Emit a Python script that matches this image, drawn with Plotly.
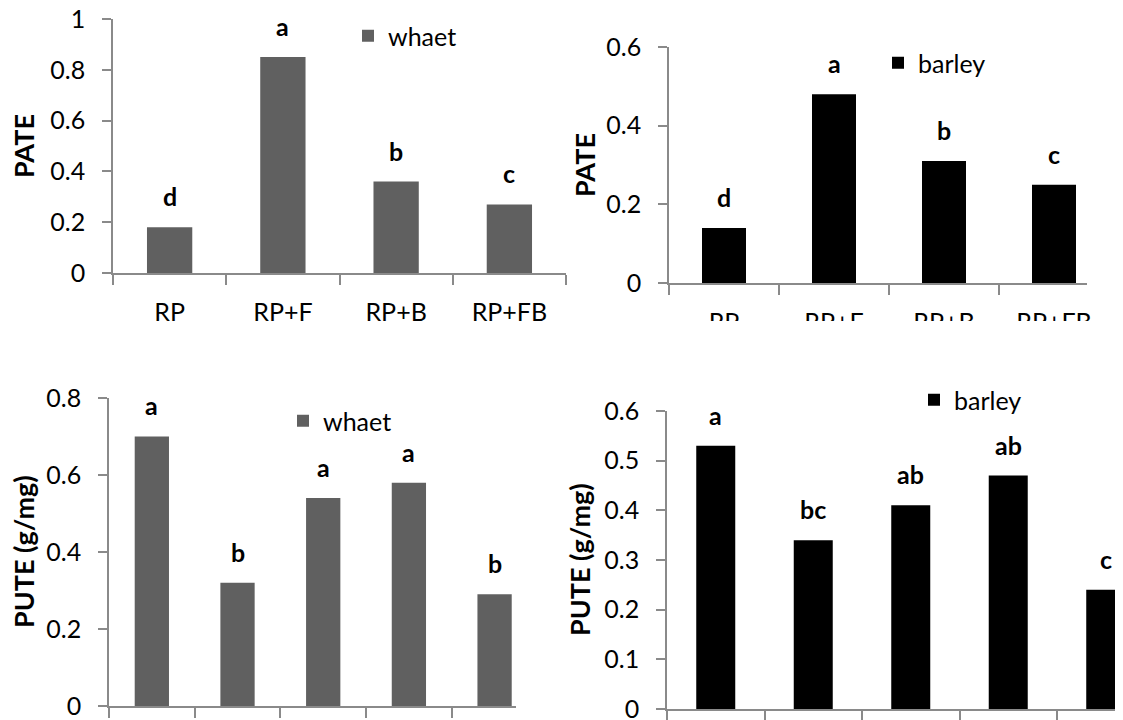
import plotly.graph_objects as go

# The page body has an 8px margin, so the figure is drawn 8px in from the
# top-left corner; positions below are given in window pixels and shifted.
OFF = 8
W, H = 1123 - OFF, 720 - OFF

# ---- data ----
top_categories = ["RP", "RP+F", "RP+B", "RP+FB"]
bottom_categories = ["T1", "T2", "T3", "T4", "T5"]

pate_wheat = [0.18, 0.85, 0.36, 0.27]
pate_wheat_letters = ["d", "a", "b", "c"]
pate_barley = [0.14, 0.48, 0.31, 0.25]
pate_barley_letters = ["d", "a", "b", "c"]

pute_wheat = [0.70, 0.32, 0.54, 0.58, 0.29]
pute_wheat_letters = ["a", "b", "a", "a", "b"]
pute_barley = [0.53, 0.34, 0.41, 0.47, 0.24]
pute_barley_letters = ["a", "bc", "ab", "ab", "c"]

WHEAT_COLOR = "#606060"
BARLEY_COLOR = "#000000"
AXIS_COLOR = "#8a8a8a"
FONT = "Lato"


def px_x(p):
    return (p - OFF) / W


def px_y(p):
    return 1 - (p - OFF) / H


def xd(a, b):
    return [px_x(a), px_x(b)]


def yd(top, bottom):
    return [px_y(bottom), px_y(top)]


fig = go.Figure()

panels = [
    ("", top_categories, pate_wheat, pate_wheat_letters, "whaet", WHEAT_COLOR, "legend"),
    ("2", top_categories, pate_barley, pate_barley_letters, "barley", BARLEY_COLOR, "legend2"),
    ("3", bottom_categories, pute_wheat, pute_wheat_letters, "whaet", WHEAT_COLOR, "legend3"),
    ("4", bottom_categories, pute_barley, pute_barley_letters, "barley", BARLEY_COLOR, "legend4"),
]

for ax, cats, vals, letters, name, color, leg in panels:
    fig.add_trace(go.Bar(
        x=cats, y=vals, name=name, marker=dict(color=color, line=dict(width=0)),
        xaxis="x" + ax, yaxis="y" + ax, legend=leg, showlegend=True,
    ))
    for c, v, t in zip(cats, vals, letters):
        fig.add_annotation(
            x=c, y=v, xref="x" + ax, yref="y" + ax, text=t, showarrow=False,
            yanchor="bottom", yshift=14,
            font=dict(family=FONT, size=25, color="#000000", weight="bold"),
        )

axis_common = dict(
    showline=True, linecolor=AXIS_COLOR, linewidth=1.5, ticks="outside",
    tickcolor=AXIS_COLOR, tickwidth=1.5, showgrid=False, zeroline=False,
    tickfont=dict(family=FONT, size=25, color="#000000"), fixedrange=True,
    ticklabeloverflow="allow",
)

layouts = {
    "": dict(xdom=xd(113, 566), xr=[-0.5, 3.5], ydom=yd(19, 273), yr=[0, 1], dt=0.2, lab=True),
    "2": dict(xdom=xd(669, 1087), xr=[-0.5, 3.3], ydom=yd(47, 283), yr=[0, 0.6], dt=0.2, lab=True),
    "3": dict(xdom=xd(109, 516), xr=[-0.5, 4.25], ydom=yd(398, 706), yr=[0, 0.8], dt=0.2, lab=False),
    "4": dict(xdom=xd(667, 1123), xr=[-0.5, 4.177], ydom=yd(411, 709), yr=[0, 0.6], dt=0.1, lab=False),
}

lay = {}
for ax, d in layouts.items():
    lay["xaxis" + ax] = dict(
        axis_common, domain=d["xdom"], range=d["xr"], type="category",
        anchor="y" + ax, tickson="boundaries", ticklen=10,
        showticklabels=d["lab"], ticklabelstandoff=16,
    )
    lay["yaxis" + ax] = dict(
        axis_common, domain=d["ydom"], range=d["yr"], dtick=d["dt"], tick0=0,
        anchor="x" + ax, ticklen=9, ticklabelstandoff=12,
    )

legend_common = dict(
    bgcolor="rgba(0,0,0,0)", font=dict(family=FONT, size=25, color="#000000"),
    xanchor="left", yanchor="middle", itemclick=False, itemdoubleclick=False,
)
lay["legend"] = dict(legend_common, x=px_x(348), y=px_y(36))
lay["legend2"] = dict(legend_common, x=px_x(878), y=px_y(63))
lay["legend3"] = dict(legend_common, x=px_x(283), y=px_y(421))
lay["legend4"] = dict(legend_common, x=px_x(914), y=px_y(400))

fig.update_layout(
    width=W, height=H, margin=dict(l=0, r=0, t=0, b=0, autoexpand=False),
    paper_bgcolor="white", plot_bgcolor="white", bargap=0.6,
    font=dict(family=FONT), **lay,
)

# y-axis titles
titles = [
    ("PATE", 24, (19 + 273) / 2),
    ("PATE", 584, (47 + 283) / 2),
    ("PUTE (g/mg)", 23, (398 + 706) / 2),
    ("PUTE (g/mg)", 579, (411 + 709) / 2),
]
for t, px, py in titles:
    fig.add_annotation(
        x=px_x(px), y=px_y(py), xref="paper", yref="paper", text=t,
        textangle=-90, showarrow=False, xanchor="center", yanchor="middle",
        font=dict(family=FONT, size=27, color="#000000", weight="bold"),
    )

# the original picture is cropped just below the upper row's category labels
fig.add_shape(
    type="rect", xref="paper", yref="paper", x0=0, x1=1,
    y0=px_y(368), y1=px_y(321), fillcolor="white", line=dict(width=0),
    layer="above",
)

fig.write_html("out.html")
